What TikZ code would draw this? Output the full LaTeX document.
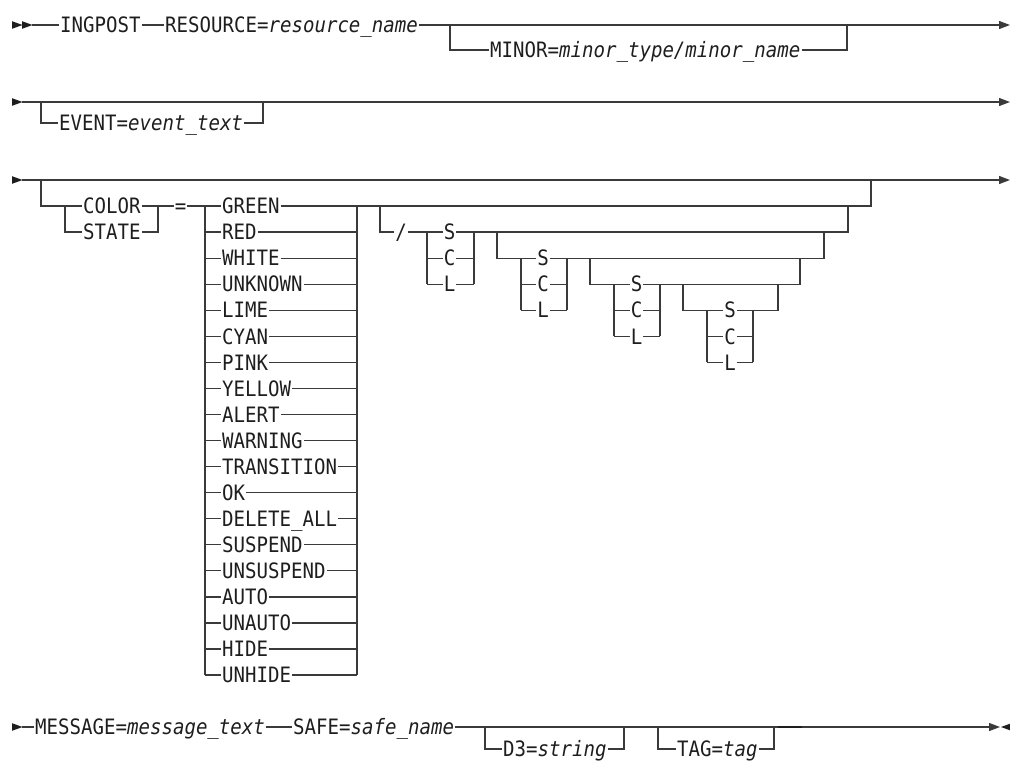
\documentclass[tikz,border=0pt]{standalone}
\usepackage{fontspec}
\newfontfamily\dvm{DejaVu Sans Mono}[ItalicFont={DejaVu Sans Mono Oblique}, FakeStretch=0.9]
\usetikzlibrary{arrows.meta}
\definecolor{ln}{HTML}{3A3A3A}
\definecolor{tx}{HTML}{1E1E1E}
\tikzset{
  rr/.style={draw=ln, line width=1.2pt},
  lbl/.style={font=\dvm\fontsize{21.2}{24}\selectfont, text=tx, inner xsep=1pt, inner ysep=0pt,
              text height=15.4pt, text depth=0pt, anchor=west},
  clbl/.style={lbl, anchor=center},
  endarr/.style={-{Triangle[length=11pt,width=8pt]}},
  tri/.style={fill=tx, draw=none},
}
\newcommand\mytriR[2]{\fill[tri] (#1,#2-3.8) -- (#1+10.5,#2) -- (#1,#2+3.8) -- cycle;}
\begin{document}
\begin{tikzpicture}[x=1pt,y=-1pt]
\useasboundingbox (0,0) rectangle (1010,761);

% ---------------- Row 1 ----------------
\mytriR{12}{25}\mytriR{22}{25}
\coordinate (r1s) at (32,25);
\node[lbl] (ing) at (59,25) {INGPOST};
\node[lbl] (res) at (164,25) {RESOURCE=\textit{resource\_name}};
\coordinate (r1e) at (1010,25);
\draw[rr] (r1s) -- (ing.west);
\draw[rr] (ing.east) -- (res.west);
\draw[rr,endarr] (res.east) -- (r1e);
\coordinate (m1) at (450,25);
\coordinate (m2) at (847,25);
\node[lbl] (minor) at (489,50) {MINOR=\textit{minor\_type/minor\_name}};
\draw[rr] (m1) |- (minor.west);
\draw[rr] (minor.east) -| (m2);

% ---------------- Row 2 ----------------
\mytriR{12}{102}
\coordinate (r2s) at (22,102);
\coordinate (r2e) at (1010,102);
\draw[rr,endarr] (r2s) -- (r2e);
\coordinate (e1) at (41,102);
\coordinate (e2) at (263,102);
\node[lbl] (event) at (58,123) {EVENT=\textit{event\_text}};
\draw[rr] (e1) |- (event.west);
\draw[rr] (event.east) -| (e2);

% ---------------- Row 3 ----------------
\mytriR{12}{180}
\coordinate (r3s) at (22,180);
\coordinate (r3e) at (1010,180);
\draw[rr,endarr] (r3s) -- (r3e);
\coordinate (b0) at (41,180);
\coordinate (j0) at (871,180);
\coordinate (cs1) at (65,206);
\coordinate (cs2) at (65,232.06);
\coordinate (ce1) at (158,206);
\coordinate (ce2) at (158,232.06);
\node[lbl] (color) at (82,206) {COLOR};
\node[lbl] (state) at (82,232.06) {STATE};
\draw[rr] (b0) |- (cs1) -- (cs2) -- (state.west);
\draw[rr] (cs1) -- (color.west);
\draw[rr] (color.east) -- (ce1) -- (ce2) -- (state.east);
\node[clbl] (eq) at (180.5,206) {=};
\draw[rr] (ce1) -- (eq.west);
\coordinate (cl0) at (205,206);
\coordinate (clN) at (205,675.08);
\coordinate (cr0) at (357,206);
\coordinate (crN) at (357,675.08);
\draw[rr] (eq.east) -- (cl0) -- (clN);
\draw[rr] (cr0) -- (crN);
\foreach \nm [count=\i from 0] in {GREEN,RED,WHITE,UNKNOWN,LIME,CYAN,PINK,YELLOW,ALERT,WARNING,TRANSITION,OK,DELETE\_ALL,SUSPEND,UNSUSPEND,AUTO,UNAUTO,HIDE,UNHIDE} {
  \pgfmathsetmacro\yy{206+26.06*\i}
  \node[lbl] (col\i) at (221,\yy) {\nm};
  \draw[rr] (205,\yy) -- (col\i.west);
  \draw[rr] (col\i.east) -- (357,\yy);
}
\draw[rr] (cr0) -| (j0);

% S/C/L groups
\foreach \g/\xb/\xl/\xc/\xr/\xj in {1/380/427/449.5/474/848, 2/497/521/543/567/824, 3/590/614/636.5/660/800, 4/683/707/730/753/778} {
  \pgfmathsetmacro\ya{206+26.06*(\g-1)}
  \pgfmathsetmacro\yb{206+26.06*\g}
  \pgfmathsetmacro\yc{206+26.06*(\g+2)}
  \coordinate (b\g) at (\xb,\ya);
  \coordinate (bl\g) at (\xl,\yb);
  \coordinate (bb\g) at (\xl,\yc);
  \coordinate (rt\g) at (\xr,\yb);
  \coordinate (rb\g) at (\xr,\yc);
  \coordinate (j\g) at (\xj,\ya);
  \foreach \ltr [count=\k from 0] in {S,C,L} {
    \pgfmathsetmacro\yy{\yb+26.06*\k}
    \node[clbl] (o\g\ltr) at (\xc,\yy) {\ltr};
    \draw[rr] (\xl,\yy) -- (o\g\ltr.west);
    \draw[rr] (o\g\ltr.east) -- (\xr,\yy);
  }
  \draw[rr] (bl\g) -- (bb\g);
  \draw[rr] (rt\g) -- (rb\g);
  \draw[rr] (rt\g) -| (j\g);
}
\node[clbl] (slash) at (401,232.06) {/};
\draw[rr] (b1) |- (slash.west);
\draw[rr] (slash.east) -- (bl1);
\foreach \g in {2,3,4} { \draw[rr] (b\g) |- (bl\g); }

% ---------------- Row 4 ----------------
\mytriR{12}{727}
\coordinate (r4s) at (22,727);
\node[lbl] (msg) at (34,727) {MESSAGE=\textit{message\_text}};
\node[lbl] (safe) at (292,727) {SAFE=\textit{safe\_name}};
\coordinate (r4e) at (1000,727);
\draw[rr] (r4s) -- (msg.west);
\draw[rr] (msg.east) -- (safe.west);
\draw[rr,endarr] (safe.east) -- (r4e);
\fill[tri] (1001,727) -- (1012,723) -- (1012,731) -- cycle;
\coordinate (d1) at (485,727);
\coordinate (d2) at (624,727);
\node[lbl] (d3) at (502,749) {D3=\textit{string}};
\draw[rr] (d1) |- (d3.west);
\draw[rr] (d3.east) -| (d2);
\coordinate (t1) at (658,727);
\coordinate (t2) at (774,727);
\node[lbl] (tag) at (676,749) {TAG=\textit{tag}};
\draw[rr] (t1) |- (tag.west);
\draw[rr] (tag.east) -| (t2);
\coordinate (k1) at (778,727);
\coordinate (k2) at (802,727);
\draw[draw=tx, line width=2pt] (k1) -- (k2);
\end{tikzpicture}
\end{document}
